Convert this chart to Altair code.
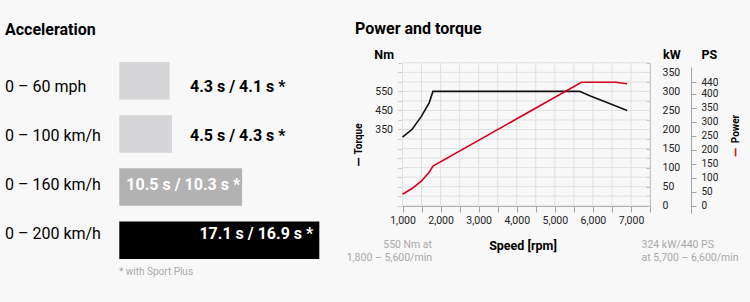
import altair as alt
import pandas as pd

FONT = "Roboto"
W, H = 750, 302

# ---------------- data ----------------
accel_labels = ["0 – 60 mph", "0 – 100 km/h", "0 – 160 km/h", "0 – 200 km/h"]
accel_time = [4.3, 4.5, 10.5, 17.1]
accel_sport = [4.1, 4.3, 10.3, 16.9]

torque_rpm = [1000, 1250, 1500, 1700, 1800, 5650, 5950, 6270, 6900]
torque_nm = [310, 350, 420, 490, 550, 550, 525, 500, 450]

power_rpm = [1000, 1250, 1500, 1700, 1800, 5700, 6600, 6900]
power_kw = [30, 45, 65, 88, 104, 324, 324, 320]

rpm_ticks = list(range(1000, 7501, 500))
kw_grid = list(range(0, 376, 25))
kw_labels = list(range(0, 351, 50))
ps_labels = [0, 50, 100, 150, 200, 250, 300, 350, 400, 440]
nm_labels = [350, 450, 550]

accel = pd.DataFrame({
    "row": accel_labels,
    "time": accel_time,
    "sport": accel_sport,
})
accel["text"] = [f"{t} s / {s} s *" for t, s in zip(accel_time, accel_sport)]
accel["start"] = 0.0

torque = pd.DataFrame({"rpm": torque_rpm, "nm": torque_nm})
power = pd.DataFrame({"rpm": power_rpm, "kw": power_kw})
vgrid = pd.DataFrame({"rpm": rpm_ticks})
hgrid = pd.DataFrame({"kw": kw_grid})
ps_df = pd.DataFrame({"ps": ps_labels})

# ---------------- scales ----------------
rpm_scale = alt.Scale(domain=[1000, 7500], range=[402.5, 650], nice=False, zero=False)
kw_scale = alt.Scale(domain=[0, 375], range=[205.7, 62.8], nice=False, zero=False)
nm_scale = alt.Scale(domain=[-50, 700], range=[205.7, 62.8], nice=False, zero=False)
ps_scale = alt.Scale(domain=[-26, 495], range=[213, 67], nice=False, zero=False)
sec_scale = alt.Scale(domain=[0, 17.1], range=[119.3, 319.3], nice=False, zero=False)
row_scale = alt.Scale(domain=accel_labels, range=[62, 259], paddingInner=0.295, paddingOuter=0)

GRID = "#e1e1e1"
AXIS = "#a5a5a5"
LBL = "#222222"

# ---------------- acceleration panel ----------------
bars = alt.Chart(accel).mark_bar().encode(
    x=alt.X("start:Q", scale=sec_scale, axis=None),
    x2="time:Q",
    y=alt.Y("row:N", scale=row_scale, axis=None, sort=accel_labels),
    color=alt.Color("row:N", scale=alt.Scale(domain=accel_labels,
                    range=["#d6d6d9", "#d6d6d9", "#b2b2b3", "#000000"]), legend=None),
)

row_text = alt.Chart(accel).mark_text(align="left", baseline="middle", font=FONT,
                                      fontSize=16, color="#000").encode(
    x=alt.value(5),
    y=alt.Y("row:N", scale=row_scale, axis=None, sort=accel_labels),
    text="row:N",
)

out_text = alt.Chart(accel).transform_filter(
    alt.datum.time < 8
).mark_text(align="left", baseline="middle", font=FONT, fontSize=16,
            fontWeight="bold", color="#000").encode(
    x=alt.value(190),
    y=alt.Y("row:N", scale=row_scale, axis=None, sort=accel_labels),
    text="text:N",
)

in_left_text = alt.Chart(accel).transform_filter(
    (alt.datum.time > 8) & (alt.datum.time < 15)
).mark_text(align="left", baseline="middle", font=FONT, fontSize=16,
            fontWeight="bold", color="#ffffff", dx=7).encode(
    x=alt.X("start:Q", scale=sec_scale, axis=None),
    y=alt.Y("row:N", scale=row_scale, axis=None, sort=accel_labels),
    text="text:N",
)

in_right_text = alt.Chart(accel).transform_filter(
    alt.datum.time > 15
).mark_text(align="right", baseline="middle", font=FONT, fontSize=16,
            fontWeight="bold", color="#ffffff", dx=-6).encode(
    x=alt.X("time:Q", scale=sec_scale, axis=None),
    y=alt.Y("row:N", scale=row_scale, axis=None, sort=accel_labels),
    text="text:N",
)

# ---------------- power & torque panel ----------------
vlines = alt.Chart(vgrid).mark_rule(color=GRID, strokeWidth=1).encode(
    x=alt.X("rpm:Q", scale=rpm_scale, axis=None),
    y=alt.Y(datum=0, type="quantitative", scale=kw_scale,
            axis=alt.Axis(orient="left", offset=-402.5, values=kw_grid, labels=False,
                          domain=False, ticks=True, tickSize=5, tickColor="#cfcfcf",
                          grid=False, title=None)),
    y2=alt.datum(375),
)

hlines = alt.Chart(hgrid).mark_rule(color=GRID, strokeWidth=1).encode(
    y=alt.Y("kw:Q", scale=kw_scale,
            axis=alt.Axis(orient="left", offset=-650, values=kw_grid, labels=False,
                          domain=False, ticks=True, tickSize=4, tickColor="#b5b5b5",
                          grid=False, title=None)),
    x=alt.X(datum=1000, type="quantitative", scale=rpm_scale, axis=None),
    x2=alt.datum(7500),
)

torque_line = alt.Chart(torque).mark_line(color="#111111", strokeWidth=1.6).encode(
    x=alt.X("rpm:Q", scale=rpm_scale,
            axis=alt.Axis(orient="bottom", offset=-(H - 206), values=rpm_ticks,
                          labelExpr="datum.value % 1000 == 0 && datum.value < 7500 ? format(datum.value, ',') : ''",
                          tickSize=6, tickColor=AXIS, domainColor=AXIS, labelPadding=3,
                          labelFont=FONT, labelFontSize=10.5, labelColor=LBL,
                          grid=False, title=None, labelFlush=False, labelOverlap=False)),
    y=alt.Y("nm:Q", scale=nm_scale,
            axis=alt.Axis(orient="left", offset=-402.5, values=nm_labels, ticks=False,
                          domain=False, labelPadding=10, labelFont=FONT, labelFontSize=10.5,
                          labelColor=LBL, grid=False, title=None)),
)

power_line = alt.Chart(power).mark_line(color="#d5001c", strokeWidth=1.6).encode(
    x=alt.X("rpm:Q", scale=rpm_scale, axis=None),
    y=alt.Y("kw:Q", scale=kw_scale,
            axis=alt.Axis(orient="right", offset=-(W - 650), values=kw_labels, ticks=False,
                          domain=True, domainColor=AXIS, labelPadding=12, labelFont=FONT,
                          labelFontSize=10.5, labelColor=LBL, grid=False, title=None,
                          labelFlush=False)),
)

ps_axis = alt.Chart(ps_df).mark_point(opacity=0).encode(
    y=alt.Y("ps:Q", scale=ps_scale,
            axis=alt.Axis(orient="right", offset=-(W - 691), values=ps_labels, ticks=True,
                          tickSize=5, tickColor=AXIS, domain=True, domainColor=AXIS,
                          labelPadding=5, labelFont=FONT, labelFontSize=10,
                          labelColor=LBL, grid=False, title=None, labelFlush=False,
                          labelOverlap=False)),
    x=alt.value(0),
)


# ---------------- static texts ----------------
def label(txt, x, y, size=12, weight="normal", color="#000", align="left", angle=0):
    return alt.Chart(pd.DataFrame({"t": [txt]})).mark_text(
        align=align, baseline="middle", font=FONT, fontSize=size,
        fontWeight=weight, color=color, angle=angle,
    ).encode(x=alt.value(x), y=alt.value(y), text="t:N")


texts = [
    label("Acceleration", 5, 30, 16, "bold"),
    label("* with Sport Plus", 119, 272, 10, color="#a8a8a8"),
    label("Power and torque", 355, 29, 16, "bold"),
    label("Nm", 394, 55, 12.5, "bold", align="right"),
    label("kW", 663, 55, 12.5, "bold"),
    label("PS", 701.5, 55, 12.5, "bold"),
    label("Speed [rpm]", 523, 246, 12.5, "bold", align="center"),
    label("550 Nm at", 432, 245, 10.5, color="#a8a8a8", align="right"),
    label("1,800 – 5,600/min", 432, 257.5, 10.5, color="#a8a8a8", align="right"),
    label("324 kW/440 PS", 641.5, 245, 10.5, color="#a8a8a8"),
    label("at 5,700 – 6,600/min", 641.5, 257.5, 10.5, color="#a8a8a8"),
    label("Torque", 359, 139, 10, "bold", align="center", angle=270),
    label("—", 359, 162, 12, "bold", align="center", angle=270),
    label("Power", 735.5, 129, 10, "bold", align="center", angle=270),
    label("—", 735.5, 152.5, 12, "bold", color="#d5001c", align="center", angle=270),
]

chart = alt.layer(
    vlines, hlines, torque_line, power_line, ps_axis,
    bars, row_text, out_text, in_left_text, in_right_text,
    *texts,
).resolve_scale(
    x="independent", y="independent", color="independent"
).resolve_axis(
    x="independent", y="independent"
).properties(
    width=W, height=H, padding=0,
    autosize=alt.AutoSizeParams(type="none"),
    background="#f8f8f8",
).configure_view(stroke=None)

chart.save("out.html", embed_options={"renderer": "svg", "actions": False})
